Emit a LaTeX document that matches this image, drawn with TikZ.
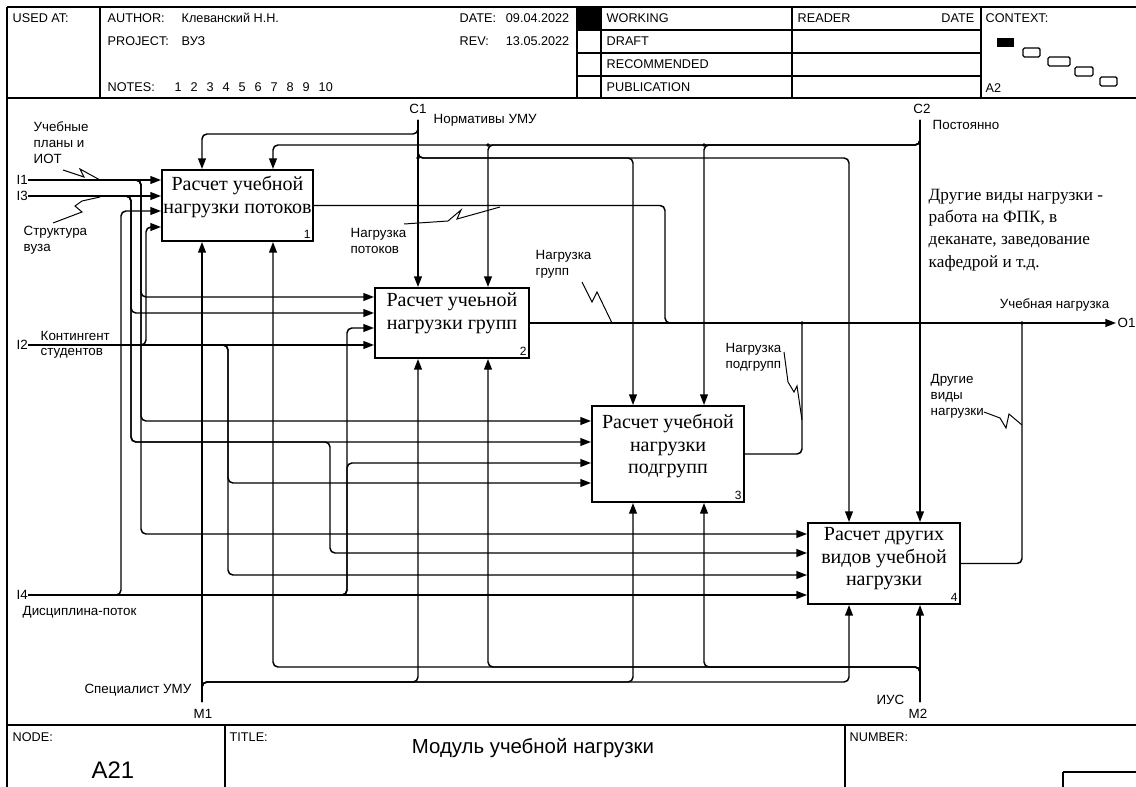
\documentclass[tikz,border=0pt]{standalone}
\usepackage{fontspec}
\setmainfont{Liberation Serif}
\setsansfont{Liberation Sans}
\usetikzlibrary{arrows.meta}

\begin{document}
\begin{tikzpicture}[x=0.05cm, y=-0.05cm, line width=2.1pt,
  arr/.style={-{Triangle[length=15pt,width=11pt]}},
  wire/.style={rounded corners=7pt},
  frame/.style={line width=2.8pt},
  func/.style n args={2}{draw, line width=2.8pt, minimum width=#1, minimum height=#2, inner sep=0pt},
  ftext/.style={font=\fontsize{28.5}{32}\selectfont, align=center, inner sep=0pt},
  fnum/.style={font=\sffamily\fontsize{17}{17}\selectfont, inner sep=4pt, anchor=south east},
  lbl/.style={font=\sffamily\fontsize{19}{22.5}\selectfont, align=left, inner sep=0pt, anchor=west},
  hdr/.style={font=\sffamily\fontsize{18}{20}\selectfont, inner sep=0pt, anchor=west},
  sq/.style={line width=1.4pt}]

  \useasboundingbox (0,0) rectangle (1136,787);

  % ====== 1) header and frame ======
  \draw[frame] (7,7) -- (1136,7);
  \draw[frame] (7,7) -- (7,787);
  \draw[frame] (7,98) -- (1136,98);
  \draw[frame] (100,7) -- (100,98);
  \draw[frame] (577,7) -- (577,98);
  \draw[frame] (601,7) -- (601,98);
  \draw[frame] (792,7) -- (792,98);
  \draw[frame] (981,7) -- (981,98);
  \foreach \y in {30,53,76}
    \draw (577,\y) -- (981,\y);
  \fill (577,7) rectangle (601,30);        % status: working

  \node[hdr] (usedat) at (12,18) {USED AT:};
  \node[hdr] (author) at (107,18) {AUTHOR:};
  \node[hdr] (authorv) at (181,18) {Клеванский Н.Н.};
  \node[hdr] (project) at (107,41) {PROJECT:};
  \node[hdr] (projectv) at (181,41) {ВУЗ};
  \node[hdr] (notes) at (107,87) {NOTES:};
  \foreach \n in {1,...,10}
    \node[hdr] at ({158+16*\n},87) {\n};
  \node[hdr] (date) at (459,18) {DATE:};
  \node[hdr, anchor=east] (datev) at (570,18) {09.04.2022};
  \node[hdr] (rev) at (459,41) {REV:};
  \node[hdr, anchor=east] (revv) at (570,41) {13.05.2022};
  \node[hdr] (working) at (606,18) {WORKING};
  \node[hdr] (draft) at (606,41) {DRAFT};
  \node[hdr] (recomm) at (606,64) {RECOMMENDED};
  \node[hdr] (public) at (606,87) {PUBLICATION};
  \node[hdr] (reader) at (797,18) {READER};
  \node[hdr, anchor=east] (rdate) at (975,18) {DATE};
  \node[hdr] (context) at (985,18) {CONTEXT:};
  \node[hdr] (ctxnode) at (985,88) {A2};

  % context boxes
  \fill (997,38) rectangle (1014,47);
  \draw[line width=1.8pt, rounded corners=2pt] (1023,48) rectangle (1040,57);
  \draw[line width=1.8pt, rounded corners=2pt] (1048,57) rectangle (1070,66);
  \draw[line width=1.8pt, rounded corners=2pt] (1075,67) rectangle (1093,76);
  \draw[line width=1.8pt, rounded corners=2pt] (1100,77) rectangle (1117,86);

  % footer
  \draw[frame] (7,725) -- (1136,725);
  \draw[frame] (225,725) -- (225,787);
  \draw[frame] (845,725) -- (845,787);
  \draw (1063,772) -- (1136,772);
  \draw (1063,772) -- (1063,787);
  \node[hdr] (nodeh) at (12,737) {NODE:};
  \node[hdr] (titleh) at (229,737) {TITLE:};
  \node[hdr] (numberh) at (849,737) {NUMBER:};
  \node[font=\sffamily\fontsize{34}{34}\selectfont, inner sep=0pt] (nodev) at (113,770) {A21};
  \node[font=\sffamily\fontsize{29}{30}\selectfont, inner sep=0pt] (titlev) at (533,748) {Модуль учебной нагрузки};

  % ====== 2) function boxes ======
  \node[func={7.55cm}{3.55cm}] (B1) at (237.5,205.5) {};
  \node[func={7.7cm}{3.5cm}]   (B2) at (452,323) {};
  \node[func={7.6cm}{4.8cm}]   (B3) at (668,454) {};
  \node[func={7.6cm}{4.05cm}]  (B4) at (884,563.5) {};

  \node[ftext] (T1) at (237.5,197) {Расчет учебной\\нагрузки потоков};
  \node[ftext] (T2) at (452,313.5) {Расчет учеьной\\нагрузки групп};
  \node[ftext] (T3) at (668,446) {Расчет учебной\\нагрузки\\подгрупп};
  \node[ftext] (T4) at (884,559) {Расчет других\\видов учебной\\нагрузки};

  \node[fnum] (N1) at (B1.south east) {1};
  \node[fnum] (N2) at (B2.south east) {2};
  \node[fnum] (N3) at (B3.south east) {3};
  \node[fnum] (N4) at (B4.south east) {4};

  \node[font=\fontsize{24.5}{32}\selectfont, inner sep=0pt, align=left, anchor=north west] (remark) at (928,188)
    {Другие виды нагрузки -\\работа на ФПК, в\\деканате, заведование\\кафедрой и т.д.};

  % ====== 3) inputs ======
  \coordinate (I1) at (28,180);
  \coordinate (I3) at (28,196);
  \coordinate (I2) at (28,345);
  \coordinate (I4) at (28,595);
  \node[lbl] (I1l) at (16,180) {I1};
  \node[lbl] (I3l) at (16,196) {I3};
  \node[lbl] (I2l) at (16,345) {I2};
  \node[lbl] (I4l) at (16,595) {I4};

  % I1: учебные планы
  \coordinate (a2) at (141,297);
  \coordinate (a3) at (141,421);
  \coordinate (a4) at (141,534);
  \draw[arr] (I1) -- (I1 -| B1.west);
  \draw[wire,arr] (I1) -| (a2) -- (a2 -| B2.west);
  \draw[wire,arr] (I1) -| (a3) -- (a3 -| B3.west);
  \draw[wire,arr] (I1) -| (a4) -- (a4 -| B4.west);

  % I3: структура вуза
  \coordinate (b2) at (131,313);
  \coordinate (b3) at (131,442);
  \coordinate (b4) at (330,553);
  \draw[arr] (I3) -- (I3 -| B1.west);
  \draw[wire,arr] (I3) -| (b2) -- (b2 -| B2.west);
  \draw[wire,arr] (I3) -| (b3) -- (b3 -| B3.west);
  \draw[wire,arr] (I3) -| (b3) -| (b4) -- (b4 -| B4.west);

  % I2: контингент
  \coordinate (c1) at (146,227);
  \coordinate (c3) at (228,483);
  \coordinate (c4) at (228,575);
  \draw[arr] (I2) -- (I2 -| B2.west);
  \draw[wire,arr] (I2) -| (c1) -- (c1 -| B1.west);
  \draw[wire,arr] (I2) -| (c3) -- (c3 -| B3.west);
  \draw[wire,arr] (I2) -| (c4) -- (c4 -| B4.west);

  % I4: дисциплина-поток
  \coordinate (d1) at (121,211);
  \coordinate (d2) at (347,328);
  \coordinate (d3) at (347,463);
  \draw[arr] (I4) -- (I4 -| B4.west);
  \draw[wire,arr] (I4) -| (d1) -- (d1 -| B1.west);
  \draw[wire,arr] (I4) -| (d2) -- (d2 -| B2.west);
  \draw[wire,arr] (I4) -| (d3) -- (d3 -| B3.west);

  \node[lbl] (L1) at (33,142.5) {Учебные\\планы и\\ИОТ};
  \node[lbl] (L3) at (23,240.5) {Структура\\вуза};
  \node[lbl] (L2a) at (40,336) {Контингент};
  \node[lbl] (L2b) at (40,353) {студентов};
  \node[lbl] (L4) at (22,612) {Дисциплина-поток};
  \draw[sq] (63,170) -- (84,177) -- (80,169) -- (100,180);
  \draw[sq] (53,223) -- (82,212) -- (75,206) -- (82,201) -- (100,197);

  % ====== 4) controls ======
  \coordinate (C1) at (418,120);
  \coordinate (C2) at (920,120);
  \node[lbl, anchor=center] (C1l) at (418,109) {C1};
  \node[lbl, anchor=center] (C2l) at (922,109) {C2};
  \node[lbl] (C1t) at (433,120) {Нормативы УМУ};
  \node[lbl] (C2t) at (932,125) {Постоянно};

  \coordinate (e1) at (202,134);
  \coordinate (e3) at (633,158);
  \coordinate (e4) at (849,158);
  \draw[arr] (C1) -- (C1 |- B2.north);
  \draw[wire,arr] (C1) |- (e1) -- (e1 |- B1.north);
  \draw[wire,arr] (C1) |- (e3) -- (e3 |- B3.north);
  \draw[wire,arr] (C1) |- (e4) -- (e4 |- B4.north);

  \coordinate (f1) at (273,145);
  \coordinate (f2) at (488,145);
  \coordinate (f3) at (704,145);
  \draw[arr] (C2) -- (C2 |- B4.north);
  \draw[wire,arr] (C2) |- (f1) -- (f1 |- B1.north);
  \draw[wire,arr] (C2) |- (f2) -- (f2 |- B2.north);
  \draw[wire,arr] (C2) |- (f3) -- (f3 |- B3.north);

  % ====== 5) mechanisms ======
  \coordinate (M1) at (202,702);
  \coordinate (M2) at (920,702);
  \node[lbl, anchor=center] (M1l) at (203,714) {M1};
  \node[lbl, anchor=center] (M2l) at (918,714) {M2};
  \node[lbl, anchor=east] (M1t) at (192,690) {Специалист УМУ};
  \node[lbl, anchor=east] (M2t) at (905,700) {ИУС};

  \coordinate (g2) at (418,682);
  \coordinate (g3) at (633,682);
  \coordinate (g4) at (849,682);
  \draw[arr] (M1) -- (M1 |- B1.south);
  \draw[wire,arr] (M1) |- (g2) -- (g2 |- B2.south);
  \draw[wire,arr] (M1) |- (g3) -- (g3 |- B3.south);
  \draw[wire,arr] (M1) |- (g4) -- (g4 |- B4.south);

  \coordinate (h1) at (273,667);
  \coordinate (h2) at (488,667);
  \coordinate (h3) at (704,667);
  \draw[arr] (M2) -- (M2 |- B4.south);
  \draw[wire,arr] (M2) |- (h1) -- (h1 |- B1.south);
  \draw[wire,arr] (M2) |- (h2) -- (h2 |- B2.south);
  \draw[wire,arr] (M2) |- (h3) -- (h3 |- B3.south);

  % ====== 6) outputs ======
  \coordinate (O1) at (1116,323);
  \coordinate (k1) at (665,323);
  \coordinate (l1) at (802,323);
  \coordinate (m1) at (1022,323);
  \node[lbl] (O1l) at (1117,323) {O1};
  \draw[arr] (B2.east) -- (O1);
  \draw[wire] (B1.east) -| (k1) -- (l1);
  \draw[wire] (B3.east) -| (l1);
  \draw[wire] (B4.east) -| (m1);

  \node[lbl, anchor=east] (O1t) at (1110,305) {Учебная нагрузка};
  \node[lbl] (P1) at (350,241) {Нагрузка\\потоков};
  \node[lbl] (P2) at (535,264.5) {Нагрузка\\групп};
  \node[lbl] (P3) at (725,357.5) {Нагрузка\\подгрупп};
  \node[lbl] (P4) at (930,396.5) {Другие\\виды\\нагрузки};
  \draw[sq] (404,224) -- (448,221) -- (461,210) -- (457,219) -- (500,207);
  \draw[sq] (582,282) -- (592,302) -- (597,292) -- (612,323);
  \draw[sq] (784,352) -- (788,382) -- (794,392) -- (797,386) -- (802,420);
  \draw[sq] (984,412) -- (1000,418) -- (1006,428) -- (1009,414) -- (1022,425);

  % ====== 7) junction dots ======
  \fill (C1 |- e3) circle[radius=2.6pt];
  \fill (f2) circle[radius=2.6pt];
  \fill (f3) circle[radius=2.6pt];
  \fill (l1) circle[radius=2.6pt];
  \fill (m1) circle[radius=2.6pt];

\end{tikzpicture}
\end{document}
